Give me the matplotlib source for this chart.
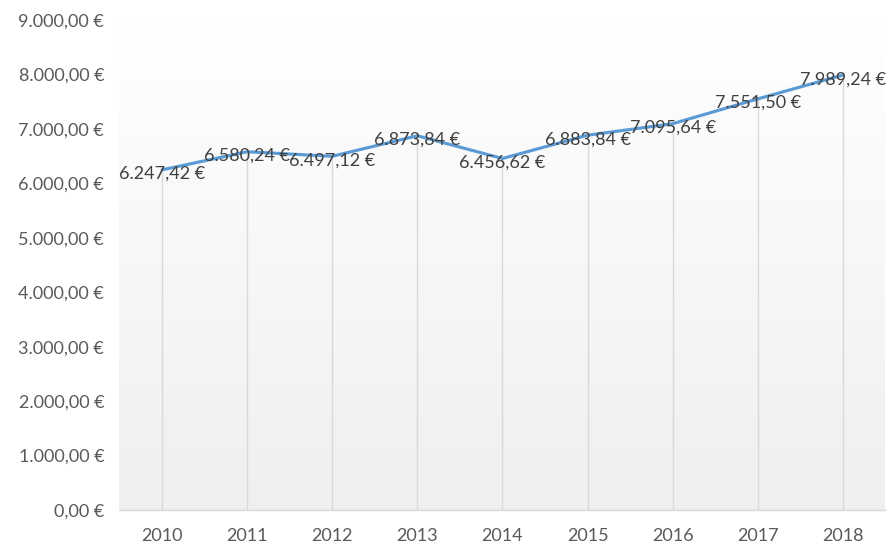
import matplotlib
matplotlib.use("Agg")
import matplotlib.pyplot as plt
import numpy as np
from matplotlib.colors import LinearSegmentedColormap

years = ["2010", "2011", "2012", "2013", "2014", "2015", "2016", "2017", "2018"]
values = [6247.42, 6580.24, 6497.12, 6873.84, 6456.62, 6883.84, 7095.64, 7551.50, 7989.24]
yticks = [0, 1000, 2000, 3000, 4000, 5000, 6000, 7000, 8000, 9000]


def eur(v):
    s = f"{v:,.2f}"
    s = s.replace(",", "X").replace(".", ",").replace("X", ".")
    return s + " €"


plt.rcParams['font.family'] = ['Lato', 'DejaVu Sans']

fig = plt.figure(figsize=(8.89, 5.44), dpi=100)
ax = fig.add_axes([0.1344, 0.0625, 0.8616, 0.9007])

x = np.arange(len(years))
ax.set_xlim(-0.5, len(years) - 0.5)
ax.set_ylim(0, 9000)

# gradient background
cmap = LinearSegmentedColormap.from_list("g", ["#efefef", "#ffffff"])
grad = np.linspace(0, 1, 256).reshape(-1, 1)
ax.imshow(grad, extent=[-0.5, len(years) - 0.5, 0, 9000], origin="lower",
          aspect="auto", cmap=cmap, zorder=0)

# drop lines
ax.vlines(x, 0, values, color="#d9d9d9", lw=1.0, zorder=1)

ax.plot(x, values, color="#5b9bd5", lw=2.25, solid_capstyle="round", zorder=3)

for xi, v in zip(x, values):
    ax.annotate(eur(v), (xi, v), xytext=(0, -3), textcoords="offset points",
                ha="center", va="center", fontsize=13, color="#404040", zorder=4)

ax.set_xticks(x)
ax.set_xticklabels(years)
ax.set_yticks(yticks)
ax.set_yticklabels([eur(v) for v in yticks])
ax.tick_params(axis="both", length=0, labelsize=13, labelcolor="#595959")
ax.tick_params(axis="x", pad=13)
ax.tick_params(axis="y", pad=11)

for s in ["top", "right", "left"]:
    ax.spines[s].set_visible(False)
ax.spines["bottom"].set_color("#d9d9d9")
ax.spines["bottom"].set_linewidth(1.0)
ax.spines["bottom"].set_zorder(2)

fig.savefig("out.png", dpi=100, facecolor="white")
